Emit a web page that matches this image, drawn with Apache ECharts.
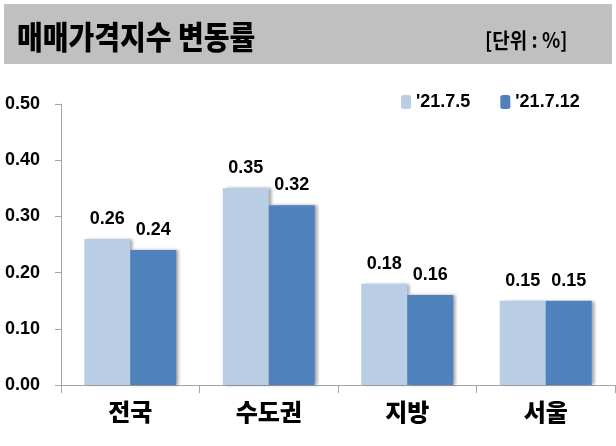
<!DOCTYPE html>
<html><head><meta charset="utf-8">
<script src="https://cdn.jsdelivr.net/npm/echarts@6/dist/echarts.min.js"></script>
<style>html,body{margin:0;padding:0;background:#fff}#c{width:616px;height:446px}</style>
</head><body><div id="c"></div>
<script>
const categories = ['전국', '수도권', '지방', '서울'];
const seriesNames = ["'21.7.5", "'21.7.12"];
const week1 = [0.26, 0.35, 0.18, 0.15];
const week2 = [0.24, 0.32, 0.16, 0.15];
const yTicks = { min: 0, max: 0.5, interval: 0.1 };
const titleText = '매매가격지수 변동률';
const unitText = '[단위 : %]';

const FONT = '"Liberation Sans", "Noto Sans CJK KR", sans-serif';
const KFONT = '"Noto Sans CJK KR", sans-serif';
const chart = echarts.init(document.getElementById('c'), null, { renderer: 'canvas' });
const barStyle = (color) => ({
  color: color,
  shadowColor: 'rgba(0,0,0,0.35)',
  shadowBlur: 3,
  shadowOffsetX: 3,
  shadowOffsetY: 0
});
const lbl = {
  show: true, position: 'top', distance: 11,
  color: '#000', fontWeight: 'bold', fontSize: 18, fontFamily: FONT,
  formatter: p => p.value.toFixed(2)
};
chart.setOption({
  animation: false,
  backgroundColor: '#fff',
  graphic: [
    { type: 'rect', shape: { x: 4, y: 4, width: 608, height: 60 }, style: { fill: '#c0c0c0' }, z: 0 },
    { type: 'text', x: 17, y: 37, scaleY: 1.12,
      style: { text: titleText, font: '900 28px ' + KFONT, fill: '#000', textVerticalAlign: 'middle', verticalAlign: 'middle' }, z: 1 },
    { type: 'text', x: 485, y: 40, scaleY: 1.1,
      style: { text: unitText, font: 'bold 19px ' + KFONT, fill: '#000', textVerticalAlign: 'middle', verticalAlign: 'middle' }, z: 1 }
  ],
  legend: {
    top: 88, left: 396,
    itemWidth: 10, itemHeight: 14, itemGap: 30,
    textStyle: { color: '#000', fontWeight: 'bold', fontSize: 18, fontFamily: FONT },
    data: seriesNames
  },
  grid: { left: 61, right: 1, top: 104, bottom: 61, containLabel: false },
  xAxis: {
    type: 'category', data: categories,
    axisLine: { lineStyle: { color: '#a6a6a6', width: 1 } },
    axisTick: { show: true, alignWithLabel: false, length: 8, lineStyle: { color: '#a6a6a6' } },
    axisLabel: { color: '#000', fontWeight: 900, fontSize: 24, fontFamily: KFONT, margin: 15 }
  },
  yAxis: {
    type: 'value', min: yTicks.min, max: yTicks.max, interval: yTicks.interval,
    axisLine: { show: true, lineStyle: { color: '#a6a6a6', width: 1 } },
    axisTick: { show: true, length: 6, lineStyle: { color: '#a6a6a6' } },
    splitLine: { show: false },
    axisLabel: { color: '#000', fontWeight: 'bold', fontSize: 18, fontFamily: FONT, margin: 21,
      formatter: v => v.toFixed(2) }
  },
  series: [
    { name: seriesNames[0], type: 'bar', data: week1, barGap: '0%', barCategoryGap: '33.6%',
      itemStyle: barStyle('#b9cde5'), label: lbl },
    { name: seriesNames[1], type: 'bar', data: week2, barGap: '0%', barCategoryGap: '33.6%',
      itemStyle: barStyle('#4f81bd'), label: lbl }
  ]
});
</script></body></html>
